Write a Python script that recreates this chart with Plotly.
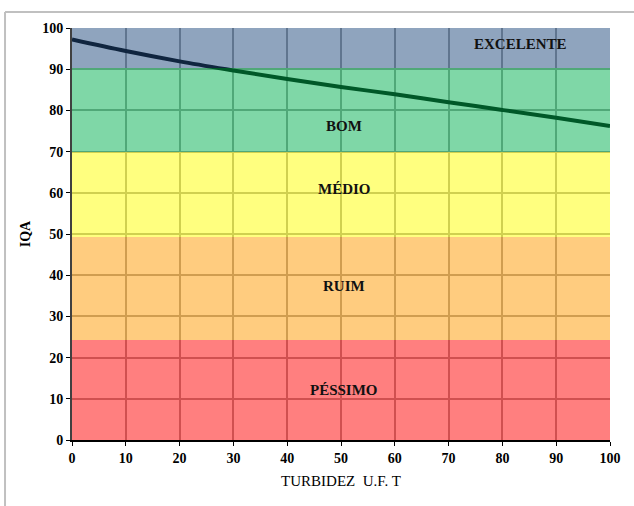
import plotly.graph_objects as go

# Data
turbidez = [0, 10, 20, 30, 40, 50, 60, 70, 80, 90, 100]
iqa = [97.2, 94.4, 91.9, 89.7, 87.6, 85.7, 83.9, 82.0, 80.1, 78.2, 76.2]

band_names = ["PÉSSIMO", "RUIM", "MÉDIO", "BOM", "EXCELENTE"]
band_low = [0, 24.3, 49.3, 69.9, 90.3]
band_high = [24.3, 49.3, 69.9, 90.3, 100]
band_colors = ["rgba(255,0,0,0.5)", "rgba(255,153,0,0.5)", "rgba(255,255,0,0.5)",
               "rgba(0,176,80,0.5)", "rgba(31,73,125,0.5)"]
label_x = [50.6, 50.6, 50.6, 50.6, 83.3]
label_y = [12.1, 37.4, 60.9, 76.2, 96.1]

x_ticks = list(range(0, 101, 10))
y_ticks = list(range(0, 101, 10))

fig = go.Figure()

# Curve (drawn first; bands overlay it semi-transparently)
fig.add_trace(go.Scatter(x=turbidez, y=iqa, mode="lines",
                         line=dict(color="#000000", width=4, shape="spline"),
                         hoverinfo="skip", showlegend=False))

for lo, hi, col in zip(band_low, band_high, band_colors):
    fig.add_trace(go.Scatter(x=[0, 100.8, 100.8, 0], y=[lo, lo, hi, hi],
                             fill="toself", fillcolor=col, mode="lines",
                             line=dict(width=0), hoverinfo="skip",
                             showlegend=False))

for name, lx, ly in zip(band_names, label_x, label_y):
    fig.add_annotation(x=lx, y=ly, text="<b>" + name + "</b>", showarrow=False,
                       font=dict(family="Liberation Serif", size=15, color="#111111"))

tickfont = dict(family="Liberation Serif", size=14, color="#000000", weight="bold")

fig.update_layout(
    width=634, height=506,
    margin=dict(l=72, r=24, t=28, b=66),
    paper_bgcolor="white", plot_bgcolor="white",
    font=dict(family="Liberation Serif", size=14, color="#000000"),
    xaxis=dict(range=[0, 100], tickvals=x_ticks, showgrid=True,
               gridcolor="#a0a0a0", gridwidth=1.5, zeroline=False,
               showline=True, linecolor="#000000", linewidth=2,
               ticks="outside", ticklen=4, tickcolor="#000000",
               tickfont=tickfont,
               title=dict(text="TURBIDEZ  U.F. T", standoff=11,
                          font=dict(family="Liberation Serif", size=15, color="#000000"))),
    yaxis=dict(range=[0, 100], tickvals=y_ticks, showgrid=True,
               gridcolor="#a0a0a0", gridwidth=1.5, zeroline=False,
               showline=True, linecolor="#404040", linewidth=2,
               ticks="outside", ticklen=4, tickcolor="#000000",
               tickfont=tickfont,
               title=dict(text="<b>IQA</b>", standoff=8,
                          font=dict(family="Liberation Serif", size=14, color="#000000"))),
)

# Outer chart frame
fig.add_shape(type="line", xref="paper", yref="paper",
              x0=-0.1245, x1=-0.1245, y0=1.0388, y1=-0.17,
              line=dict(color="#c0c0c0", width=2))
fig.add_shape(type="line", xref="paper", yref="paper",
              x0=-0.1245, x1=1.05, y0=1.0388, y1=1.0388,
              line=dict(color="#c0c0c0", width=2))

fig.write_html("out.html", config={"displayModeBar": False},
               post_script="document.body.style.margin='0';")
